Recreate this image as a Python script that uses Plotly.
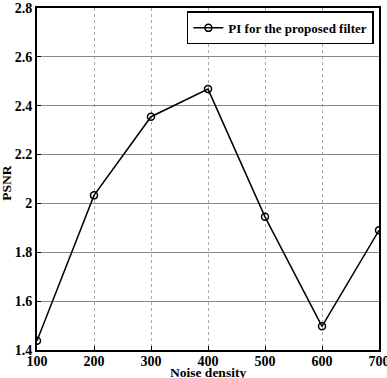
import plotly.graph_objects as go

noise_density = [100, 200, 300, 400, 500, 600, 700]
psnr = [1.438, 2.033, 2.355, 2.468, 1.945, 1.497, 1.89]
x_ticks = [100, 200, 300, 400, 500, 600, 700]
y_ticks = [1.4, 1.6, 1.8, 2.0, 2.2, 2.4, 2.6, 2.8]
y_tick_text = ["1.4", "1.6", "1.8", "2", "2.2", "2.4", "2.6", "2.8"]
x_title = "Noise density"
y_title = "PSNR"

font_fam = "Liberation Serif"

fig = go.Figure()
fig.add_trace(go.Scatter(
    x=noise_density, y=psnr, mode="lines+markers",
    name="PI for the proposed filter",
    line=dict(color="black", width=1.5),
    marker=dict(symbol="circle-open", size=7, color="black", line=dict(width=1.5)),
))

fig.update_layout(
    width=387, height=378,
    margin=dict(l=37, r=8, t=8, b=28, autoexpand=False),
    paper_bgcolor="white", plot_bgcolor="white",
    font=dict(family=font_fam, color="black", size=13, weight="bold"),
    showlegend=True,
    legend=dict(
        x=0.985, y=0.99, xanchor="right", yanchor="top",
        bordercolor="black", borderwidth=1.5, bgcolor="white",
        font=dict(family=font_fam, size=13, color="black", weight="bold"),
        itemwidth=30, tracegroupgap=0,
    ),
)
fig.update_xaxes(
    range=[100, 700], tickvals=x_ticks,
    ticktext=[str(v) for v in x_ticks],
    showgrid=True, gridcolor="#aaaaaa", griddash="dot", gridwidth=1,
    showline=True, linecolor="black", linewidth=2, mirror=True,
    ticks="inside", ticklen=4, tickcolor="black",
    tickfont=dict(size=14, family=font_fam, weight="bold"),
    ticklabeloverflow="allow", ticklabelstandoff=-3,
    zeroline=False, automargin=False,
)
fig.update_yaxes(
    range=[1.4, 2.8], tickvals=y_ticks,
    ticktext=y_tick_text,
    showgrid=True, gridcolor="#888888", gridwidth=1,
    showline=True, linecolor="black", linewidth=2, mirror=True,
    ticks="inside", ticklen=4, tickcolor="black",
    tickfont=dict(size=14, family=font_fam, weight="bold"),
    zeroline=False, automargin=False,
)
fig.add_annotation(
    text=x_title, xref="paper", yref="paper", x=0.5, y=-0.066,
    xanchor="center", yanchor="middle", showarrow=False,
    font=dict(size=13.5, family=font_fam, weight="bold"),
)
fig.add_annotation(
    text=y_title, xref="paper", yref="paper", x=-0.09, y=0.49,
    xanchor="center", yanchor="middle", showarrow=False, textangle=-90,
    font=dict(size=13.5, family=font_fam, weight="bold"),
)

fig.write_html("out.html")
